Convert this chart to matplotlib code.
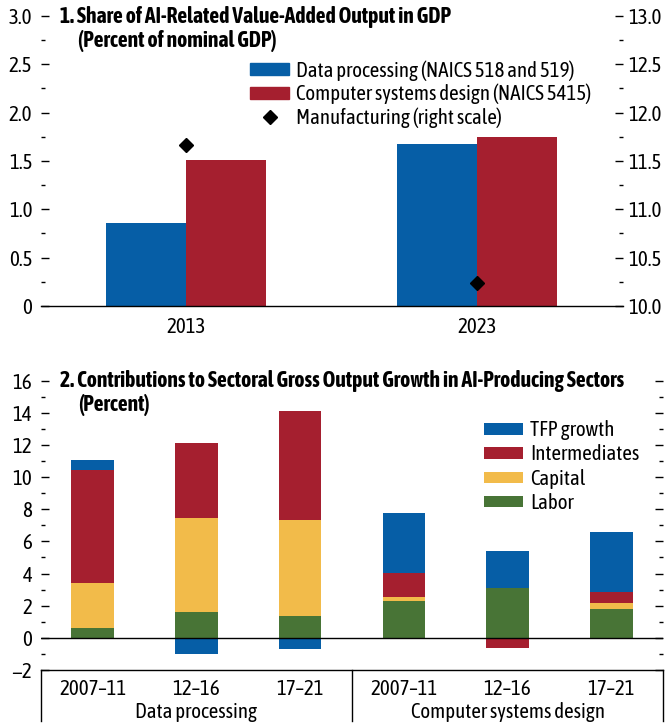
import numpy as np
import matplotlib
matplotlib.use("Agg")
import matplotlib.pyplot as plt
from matplotlib.patches import Patch
from matplotlib.lines import Line2D
from matplotlib.ticker import MultipleLocator
import matplotlib.transforms as mtrans

plt.rcParams["font.family"] = ["Asap Condensed", "Liberation Sans Narrow", "DejaVu Sans"]
FS = 15
FT = 15.6

# panel 1 data
years = ["2013", "2023"]
data_proc = [0.86, 1.68]
comp_design = [1.51, 1.75]
manuf = [11.66, 10.24]

# panel 2 data
periods = ["2007\u201311", "12\u201316", "17\u201321", "2007\u201311", "12\u201316", "17\u201321"]
groups = ["Data processing", "Computer systems design"]
labor = [0.60, 1.60, 1.34, 2.28, 3.09, 1.77]
capital = [2.82, 5.83, 6.01, 0.25, 0.0, 0.38]
intermed = [7.02, 4.68, 6.76, 1.52, -0.65, 0.69]
tfp = [0.60, -1.02, -0.71, 3.74, 2.32, 3.76]

BLUE = "#065EA6"
RED = "#A51F2F"
YELLOW = "#F2BB4A"
GREEN = "#487436"

fig = plt.figure(figsize=(6.65, 7.25), dpi=100)

# ---- panel 1
ax1 = fig.add_axes([0.0612, 0.578, 0.8756, 0.400])
x = np.arange(len(years))
w = 0.275
ax1.bar(x - w / 2, data_proc, w, color=BLUE)
ax1.bar(x + w / 2, comp_design, w, color=RED)
ax1.set_xlim(-0.5, 1.5)
ax1.set_ylim(0, 3.0)
ax1.set_xticks(x, years)
lt = np.arange(0, 3.01, 0.5)
ax1.set_yticks(lt, ["0"] + [f"{v:.1f}" for v in lt[1:]])
ax1.yaxis.set_minor_locator(MultipleLocator(0.25))
ax2 = ax1.twinx()
ax2.plot(x, manuf, "D", color="black", ms=7.5, ls="none")
ax2.set_ylim(10.0, 13.0)
rt = np.arange(10.0, 13.01, 0.5)
ax2.set_yticks(rt, [f"{v:.1f}" for v in rt])
ax2.yaxis.set_minor_locator(MultipleLocator(0.25))
for a in (ax1, ax2):
    for s in ("top", "left", "right"):
        a.spines[s].set_visible(False)
ax2.spines["bottom"].set_visible(False)
ax1.spines["bottom"].set_linewidth(1.0)
ax1.tick_params(axis="y", which="major", direction="in", length=6, width=1, labelsize=FS, pad=6)
ax1.tick_params(axis="y", which="minor", direction="in", length=3, width=1)
ax1.tick_params(axis="x", length=0, labelsize=FS, pad=8)
ax2.tick_params(axis="y", which="major", direction="in", length=6, width=1, labelsize=FS, pad=4)
ax2.tick_params(axis="y", which="minor", direction="in", length=3, width=1)
handles = [Patch(color=BLUE), Patch(color=RED),
           Line2D([], [], marker="D", color="black", ls="none", ms=7.5)]
labels = ["Data processing (NAICS 518 and 519)", "Computer systems design (NAICS 5415)",
          "Manufacturing (right scale)"]
ax1.legend(handles, labels, loc="upper left", bbox_to_anchor=(0.36, 0.847), frameon=False,
           fontsize=FS, handlelength=1.87, handleheight=0.5, labelspacing=0.14,
           handletextpad=0.33, borderpad=0, borderaxespad=0)
fig.text(0.09, 0.977, "1. Share of AI-Related Value-Added Output in GDP", fontsize=FT,
         fontweight="bold", va="center")
fig.text(0.118, 0.943, "(Percent of nominal GDP)", fontsize=FT, fontweight="bold", va="center")

# ---- panel 2
ax3 = fig.add_axes([0.0612, 0.0759, 0.936, 0.399])
xb = np.arange(len(periods))
wb = 0.41
lab = np.array(labor)
cap = np.array(capital)
inter = np.array(intermed)
tf = np.array(tfp)
pos_base = np.zeros(len(xb))
neg_base = np.zeros(len(xb))
for vals, col, name in [(lab, GREEN, "Labor"), (cap, YELLOW, "Capital"),
                        (inter, RED, "Intermediates"), (tf, BLUE, "TFP growth")]:
    bottoms = np.where(vals >= 0, pos_base, neg_base)
    ax3.bar(xb, vals, wb, bottom=bottoms, color=col, label=name)
    pos_base = pos_base + np.where(vals > 0, vals, 0)
    neg_base = neg_base + np.where(vals < 0, vals, 0)
ax3.axhline(0, color="black", lw=1.0)
ax3.set_xlim(-0.5, 5.5)
ax3.set_ylim(-2, 16)
bt = np.arange(-2, 17, 2)
ax3.set_yticks(bt, ["\u22122"] + [str(v) for v in bt[1:]])
ax3.yaxis.set_minor_locator(MultipleLocator(1))
ax3.set_xticks([])
for s in ("top", "left", "right"):
    ax3.spines[s].set_visible(False)
ax3.spines["bottom"].set_linewidth(1.0)
ax3.tick_params(axis="y", which="major", direction="in", length=6, width=1, labelsize=FS, pad=6,
                right=True)
ax3.tick_params(axis="y", which="minor", direction="in", length=3, width=1, right=True)
trans = mtrans.blended_transform_factory(ax3.transData, ax3.transAxes)
for xv in (-0.5, 2.5, 5.5):
    ax3.plot([xv, xv], [0, -0.175], color="black", lw=1.0, transform=trans, clip_on=False)
for xi, p in zip(xb, periods):
    ax3.text(xi, -0.065, p, transform=trans, ha="center", va="center", fontsize=FS)
for gi, g in enumerate(groups):
    ax3.text(1 + 3 * gi, -0.145, g, transform=trans, ha="center", va="center", fontsize=FS)
h, l = ax3.get_legend_handles_labels()
ax3.legend(h[::-1], l[::-1], loc="upper left", bbox_to_anchor=(0.713, 0.863), frameon=False,
           fontsize=FS, handlelength=1.85, handleheight=0.47, labelspacing=0.2,
           handletextpad=0.33, borderpad=0, borderaxespad=0)
fig.text(0.09, 0.474, "2. Contributions to Sectoral Gross Output Growth in AI-Producing Sectors",
         fontsize=FT, fontweight="bold", va="center")
fig.text(0.118, 0.441, "(Percent)", fontsize=FT, fontweight="bold", va="center")

fig.savefig("out.png", dpi=100)
